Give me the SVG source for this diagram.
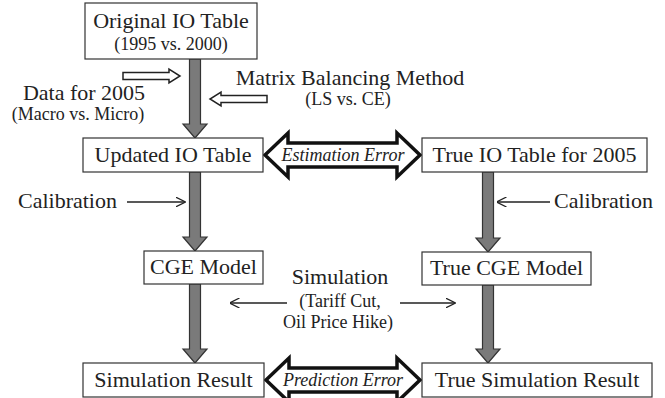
<svg xmlns="http://www.w3.org/2000/svg" width="665" height="398" viewBox="0 0 665 398" font-family="'Liberation Serif', 'DejaVu Serif', serif">
<defs>
<style>
text{font-family:'Liberation Serif','DejaVu Serif',serif}
.box{fill:#fff;stroke:#333;stroke-width:1.2}
.t{font-size:22px;fill:#222;text-anchor:middle}
.s{font-size:18px;fill:#222;text-anchor:middle}
.it{font-size:18px;font-style:italic;fill:#222;text-anchor:middle}
.gray{fill:#7a7a7a;stroke:#333;stroke-width:1.2;stroke-linejoin:miter}
.hollow{fill:#fff;stroke:#222;stroke-width:1.5}
.big{fill:#fff;stroke:#111;stroke-width:3.5;stroke-linejoin:miter}
.thin{fill:none;stroke:#222;stroke-width:1.3}
</style>
<marker id="v" viewBox="0 0 10 10" refX="9.5" refY="5" markerWidth="10" markerHeight="10" markerUnits="userSpaceOnUse" orient="auto">
<path d="M0,0 L10,5 L0,10" fill="none" stroke="#222" stroke-width="1.3"/>
</marker>
</defs>

<g id="connectors">
<path class="gray" d="M189.5,59 L200.5,59 L200.5,124 L207,124 L195,138 L183,124 L189.5,124 Z"/>
<path class="gray" d="M189.5,172 L200.5,172 L200.5,237 L207,237 L195,251 L183,237 L189.5,237 Z"/>
<path class="gray" d="M189.5,284 L200.5,284 L200.5,349 L207,349 L195,363 L183,349 L189.5,349 Z"/>
<path class="gray" d="M482.5,172 L493.5,172 L493.5,238 L500,238 L488,252 L476,238 L482.5,238 Z"/>
<path class="gray" d="M482.5,285 L493.5,285 L493.5,349 L500,349 L488,363 L476,349 L482.5,349 Z"/>
<path class="hollow" d="M123,72.5 L169,72.5 L169,69 L180,76 L169,83 L169,79.5 L123,79.5 Z"/>
<path class="hollow" d="M267,95.5 L221,95.5 L221,92 L210,99 L221,106 L221,102.5 L267,102.5 Z"/>
<g id="estimation-error">
<path class="big" d="M265,155 L288,133 L288,143 L397,143 L397,133 L420,155 L397,177 L397,167 L288,167 L288,177 Z"/>
<text class="it" x="343" y="161">Estimation Error</text>
</g>
<g id="prediction-error">
<path class="big" d="M266,380 L289,358 L289,368 L397,368 L397,358 L420,380 L397,402 L397,392 L289,392 L289,402 Z"/>
<text class="it" x="343" y="386">Prediction Error</text>
</g>
<line class="thin" x1="127" y1="202" x2="185" y2="202" marker-end="url(#v)"/>
<line class="thin" x1="550" y1="202" x2="497" y2="202" marker-end="url(#v)"/>
<line class="thin" x1="287" y1="303" x2="230" y2="303" marker-end="url(#v)"/>
<line class="thin" x1="400" y1="303" x2="455" y2="303" marker-end="url(#v)"/>
</g>

<g id="original-io">
<rect class="box" x="85" y="3" width="172" height="56"/>
<text class="t" x="171" y="28">Original IO Table</text>
<text class="s" x="171" y="50">(1995 vs. 2000)</text>
</g>
<g id="updated-io">
<rect class="box" x="83" y="138" width="180" height="34"/>
<text class="t" x="173" y="162">Updated IO Table</text>
</g>
<g id="true-io">
<rect class="box" x="422" y="138" width="225" height="34"/>
<text class="t" x="534.5" y="162">True IO Table for 2005</text>
</g>
<g id="cge">
<rect class="box" x="144" y="251" width="119" height="33"/>
<text class="t" x="203.5" y="274">CGE Model</text>
</g>
<g id="true-cge">
<rect class="box" x="422" y="252" width="169" height="33"/>
<text class="t" x="506.5" y="275">True CGE Model</text>
</g>
<g id="sim-result">
<rect class="box" x="83" y="363" width="181" height="34"/>
<text class="t" x="173.5" y="387">Simulation Result</text>
</g>
<g id="true-sim-result">
<rect class="box" x="422" y="363" width="230" height="34"/>
<text class="t" x="537" y="387">True Simulation Result</text>
</g>

<g id="labels">
<text class="t" x="84" y="100">Data for 2005</text>
<text class="s" x="78" y="120">(Macro vs. Micro)</text>
<text class="t" x="350" y="85">Matrix Balancing Method</text>
<text class="s" x="348" y="105">(LS vs. CE)</text>
<text class="t" x="18" y="208" style="text-anchor:start">Calibration</text>
<text class="t" x="554" y="208" style="text-anchor:start">Calibration</text>
<text class="t" x="340" y="284">Simulation</text>
<text class="s" x="340" y="307">(Tariff Cut,</text>
<text class="s" x="338" y="328">Oil Price Hike)</text>
</g>
</svg>
